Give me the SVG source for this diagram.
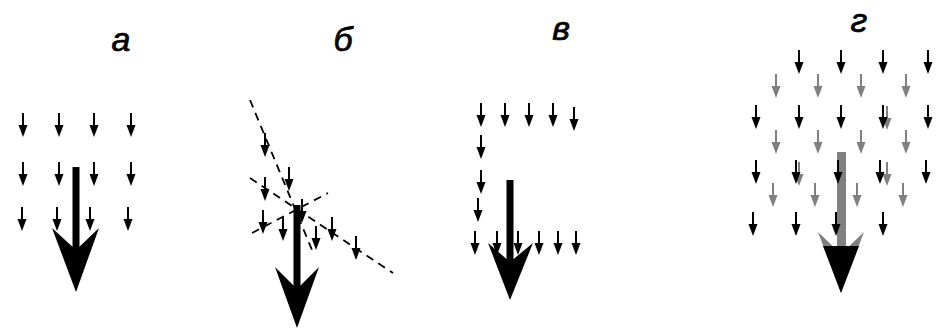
<svg xmlns="http://www.w3.org/2000/svg" xmlns:xlink="http://www.w3.org/1999/xlink" width="936" height="330" viewBox="0 0 936 330">
<style>
.lbl{font-family:"Liberation Sans",Arial,sans-serif;font-style:italic;font-size:34px;fill:#000;stroke:#000;stroke-width:0.7;text-anchor:middle}
.blk{fill:#000;stroke:#000}
.gry{fill:#808080;stroke:#808080}
.dash{fill:none;stroke:#000;stroke-width:1.8;stroke-dasharray:8 6}
</style>
<defs>
<g id="sa"><line x1="0" y1="0" x2="0" y2="13" stroke-width="2"/><path d="M-4.5,12 L4.5,12 L0,24 Z" stroke="none"/></g>
</defs>
<rect width="936" height="330" fill="#fff"/>

<g id="labels">
<text class="lbl" x="121" y="51">а</text>
<text class="lbl" x="343" y="51">б</text>
<text class="lbl" x="561" y="40">в</text>
<text class="lbl" x="859" y="32">г</text>
</g>

<g id="panel-a">
<g id="a-field" class="blk">
<use xlink:href="#sa" x="23" y="113"/><use xlink:href="#sa" x="59" y="113"/><use xlink:href="#sa" x="94" y="113"/><use xlink:href="#sa" x="131" y="113"/>
<use xlink:href="#sa" x="23" y="162"/><use xlink:href="#sa" x="59" y="162"/><use xlink:href="#sa" x="94" y="162"/><use xlink:href="#sa" x="131" y="162"/>
<use xlink:href="#sa" x="22" y="207"/><use xlink:href="#sa" x="57" y="207"/><use xlink:href="#sa" x="90" y="207"/><use xlink:href="#sa" x="128" y="207"/>
</g>
<g id="a-big" fill="#000">
<rect x="72.5" y="167" width="7" height="85"/>
<polygon points="52,228 76,250 99,228 76,292"/>
</g>
</g>

<g id="panel-b">
<g id="b-lines">
<line class="dash" x1="250" y1="100" x2="312" y2="250"/>
<line class="dash" x1="250" y1="178" x2="393" y2="273"/>
<line class="dash" x1="252" y1="233" x2="328" y2="193"/>
</g>
<g id="b-field" class="blk">
<use xlink:href="#sa" x="265" y="133"/><use xlink:href="#sa" x="265" y="177"/><use xlink:href="#sa" x="289" y="167"/>
<use xlink:href="#sa" x="263" y="210"/><use xlink:href="#sa" x="283" y="217"/><use xlink:href="#sa" x="302" y="199"/>
<use xlink:href="#sa" x="316" y="226"/><use xlink:href="#sa" x="332" y="217"/><use xlink:href="#sa" x="356" y="236"/>
</g>
<g id="b-big" fill="#000">
<rect x="293.5" y="205" width="7" height="88"/>
<polygon points="275,267 297,289 319,267 297,328"/>
</g>
</g>

<g id="panel-c">
<g id="c-field" class="blk">
<use xlink:href="#sa" x="481" y="103"/><use xlink:href="#sa" x="505" y="103"/><use xlink:href="#sa" x="529" y="103"/><use xlink:href="#sa" x="553" y="103"/><use xlink:href="#sa" x="574" y="107"/>
<use xlink:href="#sa" x="481" y="135"/><use xlink:href="#sa" x="481" y="170"/><use xlink:href="#sa" x="478" y="198"/>
<use xlink:href="#sa" x="475" y="231"/><use xlink:href="#sa" x="497" y="231"/><use xlink:href="#sa" x="518" y="231"/><use xlink:href="#sa" x="539" y="231"/><use xlink:href="#sa" x="558" y="231"/><use xlink:href="#sa" x="576" y="231"/>
</g>
<g id="c-big" fill="#000">
<rect x="506.5" y="180" width="7" height="84"/>
<polygon points="488,243 510,262 533,243 510,300"/>
</g>
</g>

<g id="panel-d">
<g id="d-big">
<rect x="837" y="152" width="9" height="96" fill="#808080"/>
<polygon points="818,232 841,254 864,232 841,293" fill="#808080"/>
<polygon points="823,246 859,246 841,293" fill="#000"/>
</g>
<g id="d-gray" class="gry">
<use xlink:href="#sa" x="776" y="74"/><use xlink:href="#sa" x="818" y="74"/><use xlink:href="#sa" x="861" y="74"/><use xlink:href="#sa" x="906" y="74"/>
<use xlink:href="#sa" x="776" y="130"/><use xlink:href="#sa" x="818" y="130"/><use xlink:href="#sa" x="861" y="130"/><use xlink:href="#sa" x="906" y="130"/>
<use xlink:href="#sa" x="773" y="183"/><use xlink:href="#sa" x="815" y="183"/><use xlink:href="#sa" x="857" y="183"/><use xlink:href="#sa" x="903" y="183"/>
<use xlink:href="#sa" x="887" y="106"/><use xlink:href="#sa" x="799" y="162"/><use xlink:href="#sa" x="887" y="162"/>
</g>
<g id="d-black" class="blk">
<use xlink:href="#sa" x="799" y="50"/><use xlink:href="#sa" x="841" y="50"/><use xlink:href="#sa" x="883" y="50"/><use xlink:href="#sa" x="928" y="50"/>
<use xlink:href="#sa" x="756" y="105"/><use xlink:href="#sa" x="799" y="105"/><use xlink:href="#sa" x="841" y="105"/><use xlink:href="#sa" x="883" y="105"/><use xlink:href="#sa" x="928" y="105"/>
<use xlink:href="#sa" x="756" y="160"/><use xlink:href="#sa" x="796" y="160"/><use xlink:href="#sa" x="838" y="160"/><use xlink:href="#sa" x="880" y="160"/><use xlink:href="#sa" x="926" y="160"/>
<use xlink:href="#sa" x="753" y="212"/><use xlink:href="#sa" x="796" y="212"/><use xlink:href="#sa" x="836" y="212"/><use xlink:href="#sa" x="883" y="212"/>
</g>
</g>
</svg>
